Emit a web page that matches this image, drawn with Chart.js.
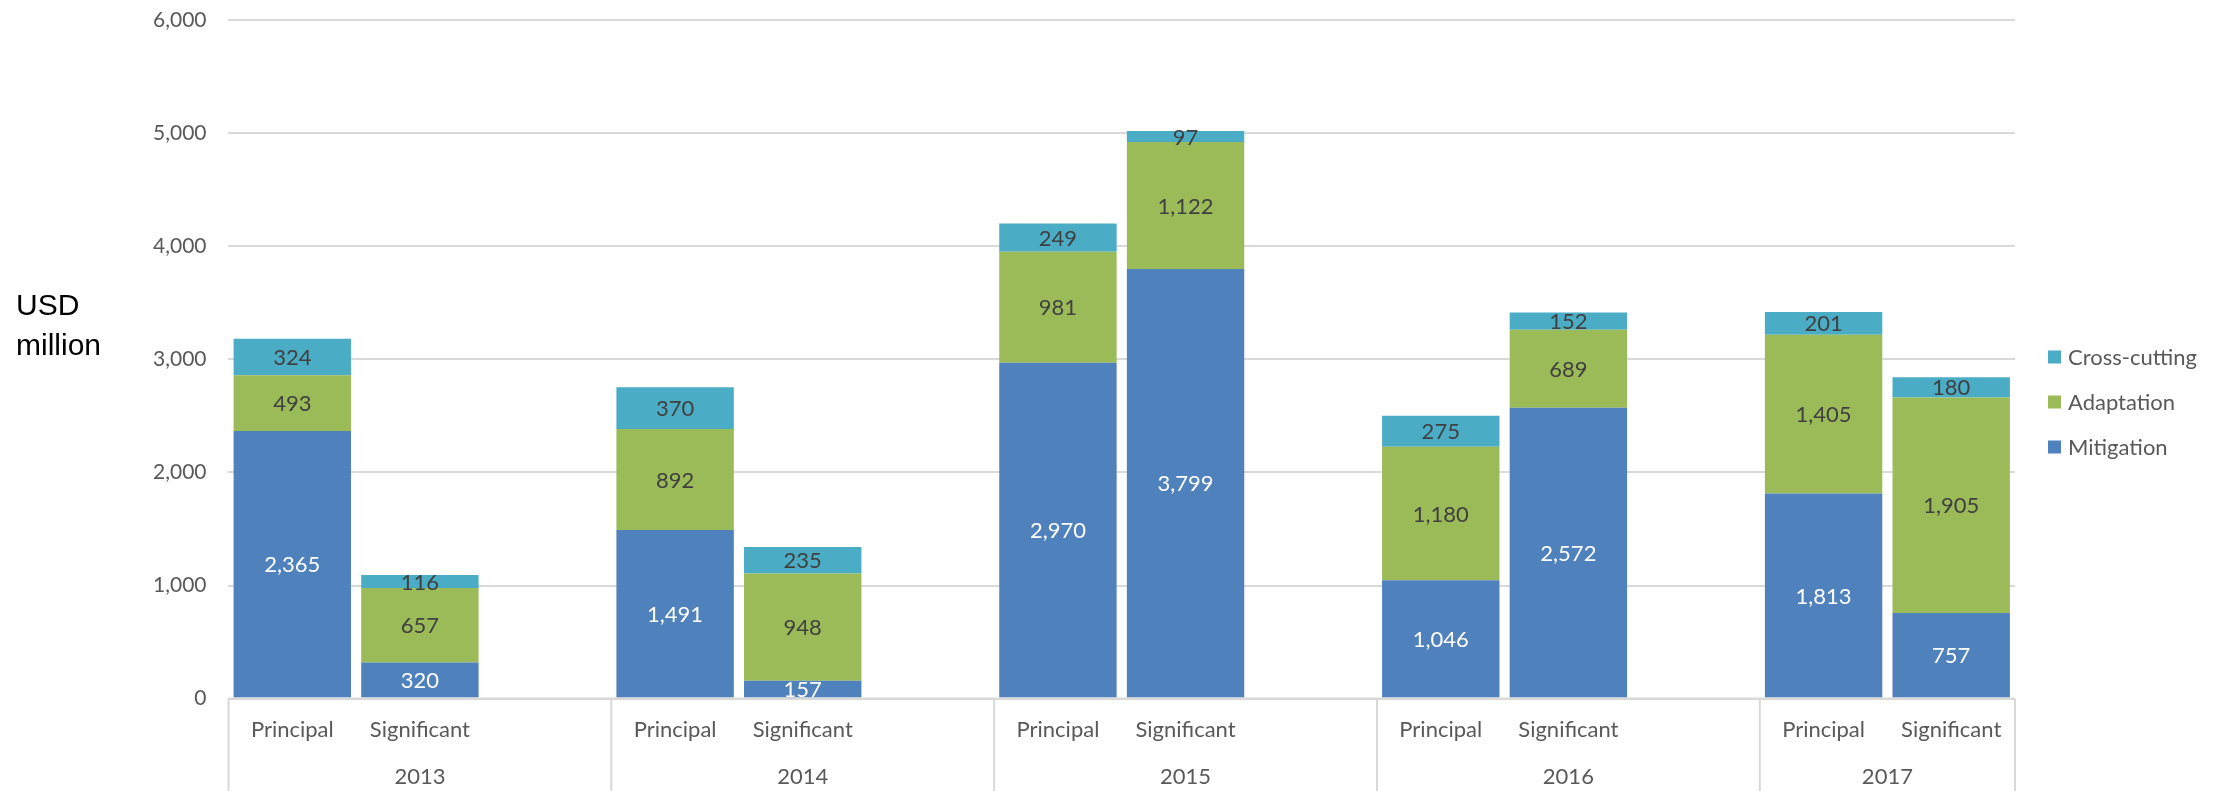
<!DOCTYPE html>
<html>
<head>
<meta charset="utf-8">
<title>Climate-related finance by marker</title>
<script src="https://cdn.jsdelivr.net/npm/chart.js@4.4.1/dist/chart.umd.min.js"></script>
<style>
    html, body { margin: 0; padding: 0; background: #ffffff; }
    #wrap { width: 2215px; height: 791px; position: relative; }
</style>
</head>
<body>
<div id="wrap"><canvas id="financeChart"></canvas></div>
<script>
// years and the two Rio marker levels shown under each year
const years = ['2013', '2014', '2015', '2016', '2017'];
const markers = ['Principal', 'Significant'];

// USD million, in order: 2013 P, 2013 S, 2014 P, 2014 S, ...
const mitigation = [2365, 320, 1491, 157, 2970, 3799, 1046, 2572, 1813, 757];
const adaptation = [493, 657, 892, 948, 981, 1122, 1180, 689, 1405, 1905];
const crossCutting = [324, 116, 370, 235, 249, 97, 275, 152, 201, 180];

const yMax = 6000;
const yStep = 1000;

const FONT = 'Lato, "Open Sans", sans-serif';

// each year takes three slots (two bars and a blank one), the last year only two
const labels = [];
const groupStart = [];
function spread(values) {
    const out = [];
    years.forEach((y, g) => {
        out.push(values[g * 2], values[g * 2 + 1]);
        if (g < years.length - 1) out.push(null);
    });
    return out;
}
years.forEach((y, g) => {
    groupStart.push(labels.length);
    labels.push(markers[0], markers[1]);
    if (g < years.length - 1) labels.push('');
});

function fmt(v) {
    return v.toLocaleString('en-US');
}

// value labels in the middle of each segment, clipped to the plot area
const segmentLabels = {
    id: 'segmentLabels',
    afterDatasetsDraw(chart) {
        const ctx = chart.ctx;
        const area = chart.chartArea;
        ctx.save();
        ctx.beginPath();
        ctx.rect(area.left, area.top, area.right - area.left, area.bottom - area.top);
        ctx.clip();
        ctx.font = '22px ' + FONT;
        ctx.textAlign = 'center';
        ctx.textBaseline = 'middle';
        chart.data.datasets.forEach((ds, i) => {
            const meta = chart.getDatasetMeta(i);
            meta.data.forEach((bar, j) => {
                const v = ds.data[j];
                if (v == null) return;
                const p = bar.getProps(['x', 'y', 'base'], true);
                ctx.fillStyle = ds.labelColor;
                ctx.fillText(fmt(v), p.x, (p.y + p.base) / 2 + 1);
            });
        });
        ctx.restore();
    }
};

// boxed category axis with the year under each group, unit label and legend
const axisFrame = {
    id: 'axisFrame',
    afterDraw(chart) {
        const ctx = chart.ctx;
        const area = chart.chartArea;
        const xs = chart.scales.x;
        const slot = xs.getPixelForValue(1) - xs.getPixelForValue(0);
        const edges = groupStart.map(i => xs.getPixelForValue(i) - slot / 2);
        edges.push(area.right);

        ctx.save();
        ctx.strokeStyle = '#d9d9d9';
        ctx.lineWidth = 2;
        ctx.beginPath();
        ctx.moveTo(area.left, area.bottom);
        ctx.lineTo(area.right, area.bottom);
        edges.forEach(x => {
            ctx.moveTo(x, area.bottom);
            ctx.lineTo(x, chart.height);
        });
        ctx.stroke();

        ctx.fillStyle = '#595959';
        ctx.font = '22px ' + FONT;
        ctx.textAlign = 'center';
        ctx.textBaseline = 'middle';
        years.forEach((y, g) => {
            ctx.fillText(y, (edges[g] + edges[g + 1]) / 2, area.bottom + 78);
        });

        ctx.fillStyle = '#000000';
        ctx.font = '30px "Liberation Sans", Arial, sans-serif';
        ctx.textAlign = 'left';
        ctx.fillText('USD', 16, 307);
        ctx.fillText('million', 16, 347);

        // legend, last series on top
        ctx.font = '22px ' + FONT;
        const items = chart.data.datasets.slice().reverse();
        items.forEach((ds, k) => {
            const cy = 357 + k * 45;
            ctx.fillStyle = ds.backgroundColor;
            ctx.fillRect(area.right + 33, cy - 6.5, 13, 13);
            ctx.fillStyle = '#595959';
            ctx.fillText(ds.label, area.right + 53, cy + 1);
        });
        ctx.restore();
    }
};

function draw() {
    const ctx = document.getElementById('financeChart').getContext('2d');
    new Chart(ctx, {
        type: 'bar',
        data: {
            labels: labels,
            datasets: [
                {
                    label: 'Mitigation',
                    data: spread(mitigation),
                    backgroundColor: '#4f81bd',
                    labelColor: '#ffffff'
                },
                {
                    label: 'Adaptation',
                    data: spread(adaptation),
                    backgroundColor: '#9bbb59',
                    labelColor: '#404040'
                },
                {
                    label: 'Cross-cutting',
                    data: spread(crossCutting),
                    backgroundColor: '#4bacc6',
                    labelColor: '#404040'
                }
            ]
        },
        options: {
            responsive: true,
            maintainAspectRatio: false,
            animation: false,
            datasets: {
                bar: {
                    categoryPercentage: 1,
                    barPercentage: 0.92,
                    borderWidth: 0
                }
            },
            layout: {
                padding: { left: 131, top: 20, right: 200, bottom: 38 }
            },
            scales: {
                x: {
                    stacked: true,
                    grid: { display: false },
                    border: { display: false },
                    ticks: {
                        autoSkip: false,
                        maxRotation: 0,
                        padding: 10,
                        color: '#595959',
                        font: { family: FONT, size: 22 }
                    }
                },
                y: {
                    stacked: true,
                    min: 0,
                    max: yMax,
                    grid: { color: '#d9d9d9', lineWidth: 2, drawTicks: false },
                    border: { display: false },
                    ticks: {
                        stepSize: yStep,
                        padding: 22,
                        color: '#595959',
                        font: { family: FONT, size: 21 },
                        callback: v => fmt(v)
                    },
                    // only half a label of room above the top tick
                    afterFit: scale => {
                        scale.paddingTop = 12;
                        scale.paddingBottom = 12;
                    }
                }
            },
            plugins: {
                legend: { display: false },
                tooltip: { enabled: false }
            }
        },
        plugins: [segmentLabels, axisFrame]
    });
}

if (document.fonts && document.fonts.load) {
    Promise.all([
        document.fonts.load('20px Lato'),
        document.fonts.load('30px "Liberation Sans"')
    ]).then(draw, draw);
} else {
    draw();
}
</script>
</body>
</html>
